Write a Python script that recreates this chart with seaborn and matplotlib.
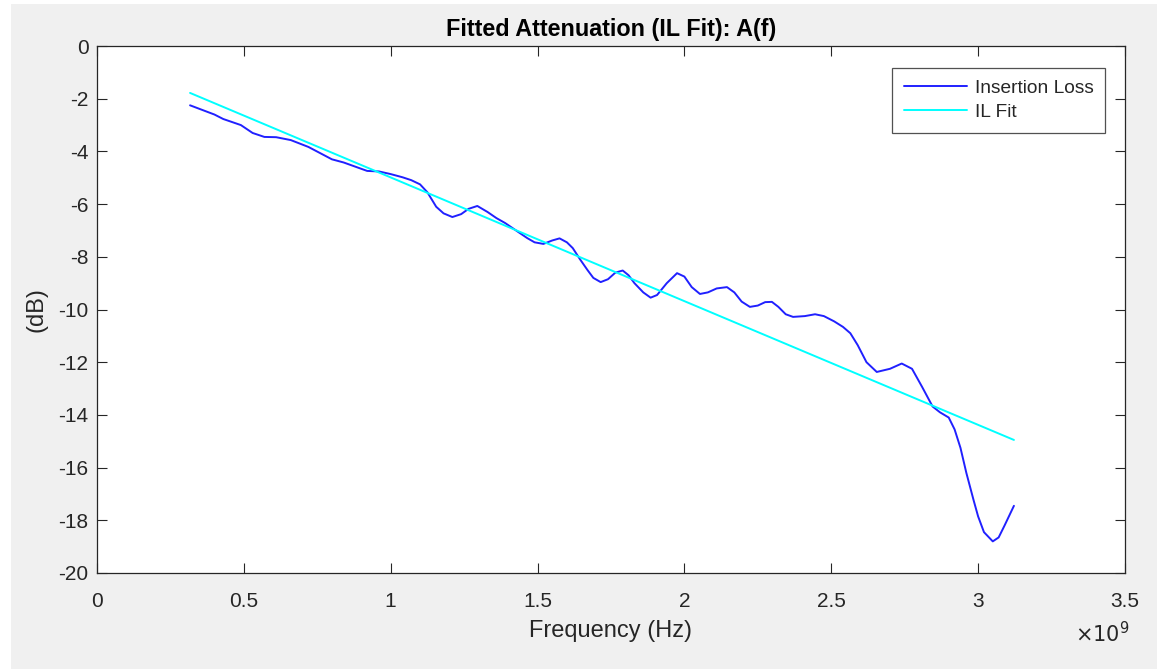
import matplotlib
matplotlib.use("Agg")
import matplotlib.pyplot as plt
from matplotlib.patches import Rectangle
import seaborn as sns
import pandas as pd

# Insertion loss curve (frequency in GHz, loss in dB)
il_freq_ghz = [0.317, 0.40, 0.43, 0.49, 0.53, 0.57, 0.61, 0.66, 0.72, 0.80, 0.84, 0.88,
               0.92, 0.96, 1.00, 1.04, 1.07, 1.10, 1.125, 1.155, 1.18, 1.21, 1.24, 1.265,
               1.295, 1.33, 1.36, 1.39, 1.415, 1.44, 1.465, 1.49, 1.52, 1.55, 1.575, 1.60,
               1.62, 1.645, 1.67, 1.69, 1.715, 1.74, 1.765, 1.79, 1.81, 1.83, 1.86, 1.885,
               1.907, 1.94, 1.975, 2.00, 2.025, 2.053, 2.08, 2.11, 2.145, 2.17, 2.195, 2.223,
               2.25, 2.275, 2.298, 2.32, 2.345, 2.37, 2.41, 2.445, 2.475, 2.51, 2.54, 2.565,
               2.59, 2.62, 2.655, 2.70, 2.74, 2.775, 2.81, 2.845, 2.87, 2.90, 2.92, 2.94,
               2.96, 2.985, 3.00, 3.02, 3.05, 3.07, 3.09, 3.122]
il_db = [-2.25, -2.60, -2.77, -3.00, -3.30, -3.45, -3.46, -3.57, -3.83, -4.30, -4.42, -4.58,
         -4.74, -4.76, -4.86, -4.98, -5.09, -5.25, -5.55, -6.10, -6.35, -6.49, -6.38, -6.18,
         -6.07, -6.30, -6.53, -6.72, -6.91, -7.10, -7.29, -7.45, -7.51, -7.38, -7.30, -7.45,
         -7.67, -8.10, -8.50, -8.80, -8.96, -8.85, -8.60, -8.52, -8.70, -9.00, -9.35, -9.55,
         -9.45, -9.00, -8.62, -8.75, -9.15, -9.41, -9.35, -9.20, -9.15, -9.35, -9.70, -9.90,
         -9.85, -9.72, -9.71, -9.90, -10.18, -10.28, -10.25, -10.18, -10.25, -10.45, -10.66, -10.90,
         -11.35, -12.00, -12.37, -12.25, -12.05, -12.25, -12.95, -13.68, -13.90, -14.10, -14.55, -15.25,
         -16.20, -17.25, -17.85, -18.45, -18.80, -18.65, -18.20, -17.45]

# Fitted line
fit_freq_ghz = [0.317, 3.122]
fit_db = [-1.78, -14.95]

x_ticks = [0, 0.5, 1, 1.5, 2, 2.5, 3, 3.5]
x_tick_labels = ["0", "0.5", "1", "1.5", "2", "2.5", "3", "3.5"]
y_ticks = [0, -2, -4, -6, -8, -10, -12, -14, -16, -18, -20]

df_il = pd.DataFrame({"f": [v * 1e9 for v in il_freq_ghz], "dB": il_db})
df_fit = pd.DataFrame({"f": [v * 1e9 for v in fit_freq_ghz], "dB": fit_db})

sns.set_style("ticks")
plt.rcParams["font.family"] = ["Liberation Sans", "DejaVu Sans"]
txt = "#262626"

fig = plt.figure(figsize=(11.57, 6.69), dpi=100, facecolor="#f0f0f0")
# thin white screenshot border on left and top
fig.patches.append(Rectangle((0, 0), 11 / 1157, 1, transform=fig.transFigure,
                             facecolor="white", edgecolor="none", zorder=-10))
fig.patches.append(Rectangle((0, 1 - 4 / 669), 1, 4 / 669, transform=fig.transFigure,
                             facecolor="white", edgecolor="none", zorder=-10))

ax = fig.add_axes([0.0838, 0.1435, 0.9723 - 0.0838, 0.9312 - 0.1435])
ax.set_facecolor("white")

sns.lineplot(data=df_il, x="f", y="dB", ax=ax, color="#2020ff", linewidth=1.4,
             label="Insertion Loss", sort=False)
sns.lineplot(data=df_fit, x="f", y="dB", ax=ax, color="#00ffff", linewidth=1.4,
             label="IL Fit", sort=False)

ax.set_xlim(0, 3.5e9)
ax.set_ylim(-20, 0)
ax.set_xticks([t * 1e9 for t in x_ticks])
ax.set_xticklabels(x_tick_labels)
ax.set_yticks(y_ticks)
ax.set_yticklabels([str(t) for t in y_ticks])
ax.tick_params(direction="in", top=True, right=True, length=7, width=0.8,
               labelsize=15, colors=txt)
ax.tick_params(axis="x", pad=14)
ax.tick_params(axis="y", pad=6)
for sp in ax.spines.values():
    sp.set_visible(True)
    sp.set_color(txt)
    sp.set_linewidth(0.9)

ax.set_xlabel("Frequency (Hz)", fontsize=17, color=txt, labelpad=6)
ax.set_ylabel("(dB)", fontsize=17, color=txt, labelpad=8)
ax.set_title("Fitted Attenuation (IL Fit): A(f)", fontsize=16.8, fontweight="bold",
             color="black", pad=7)

fig.text(0.9295, 0.040, r"$\times10^{9}$", fontsize=15, color=txt)

leg = ax.legend(loc="upper right", frameon=True, fancybox=False, fontsize=13.8,
                handlelength=3.3, handletextpad=0.4, borderpad=0.6, labelspacing=0.35,
                borderaxespad=0, bbox_to_anchor=(0.9805, 0.958))
leg.get_frame().set_edgecolor(txt)
leg.get_frame().set_linewidth(0.9)
for t in leg.get_texts():
    t.set_color(txt)

fig.savefig("out.png", dpi=100, facecolor=fig.get_facecolor())
